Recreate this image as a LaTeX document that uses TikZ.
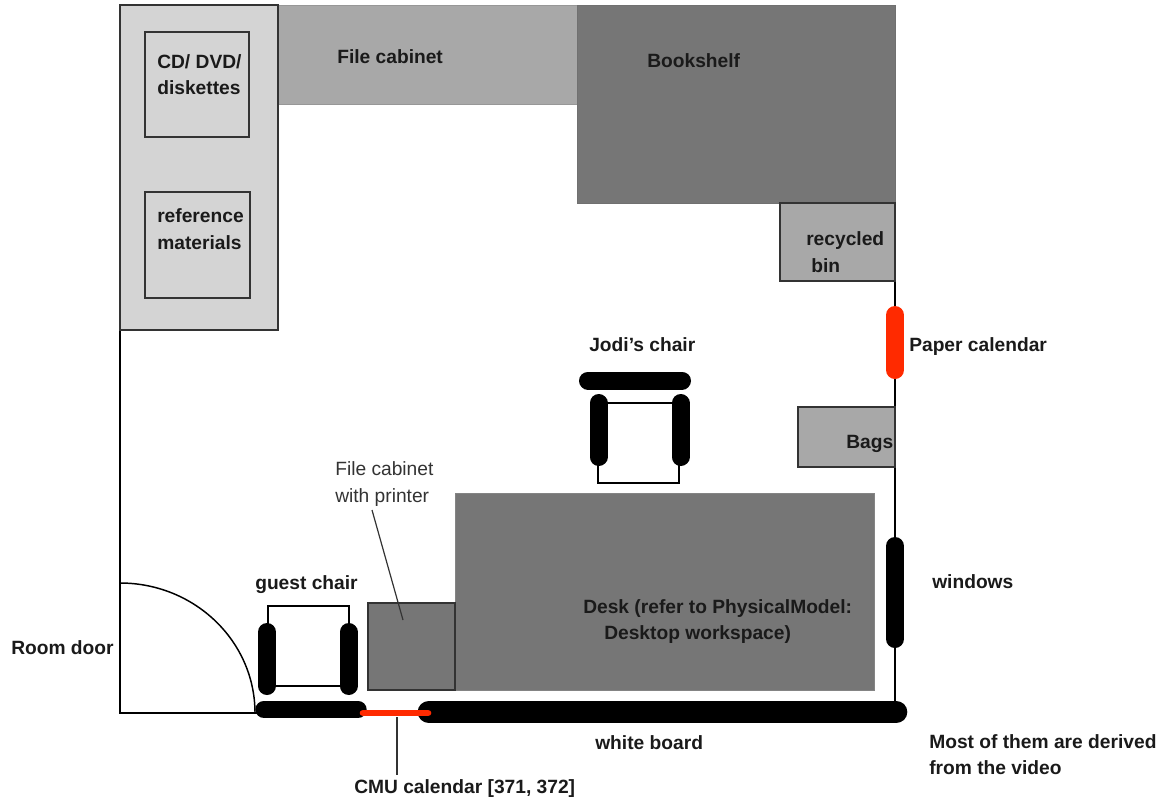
\documentclass[tikz,border=0pt]{standalone}
\usepackage{fontspec}
\setmainfont{Liberation Sans}
\definecolor{lightg}{HTML}{D4D4D4}
\definecolor{midg}{HTML}{A8A8A8}
\definecolor{darkg}{HTML}{767676}
\definecolor{calred}{HTML}{FF2A00}
\definecolor{edge}{HTML}{333333}
\definecolor{txt}{HTML}{1A1A1A}
\definecolor{txtg}{HTML}{333333}
\begin{document}
\begin{tikzpicture}[x=0.75pt,y=-0.75pt,
  lab/.style={font=\bfseries\fontsize{14.4pt}{17pt}\selectfont, inner sep=0pt, anchor=base west, text=txt},
  thinlab/.style={font=\fontsize{14.4pt}{17pt}\selectfont, inner sep=0pt, anchor=base west, text=txtg},
  wall/.style={draw=black, line width=1.1pt},
  box/.style={draw=edge, line width=1.1pt},
  bar/.style={draw=black, line width=13.5pt, line cap=round},
  seat/.style={draw=black, line width=0.9pt},
  leader/.style={draw=txtg, line width=0.9pt},
  redbar/.style={draw=calred, line cap=round},
]
\useasboundingbox (0,0) rectangle (1163,804);
% walls
\draw[wall] (120,5) -- (120,713) -- (895,713) -- (895,5);
% furniture
\path[fill=midg, draw=midg!90!black, line width=0.6pt] (278,5) rectangle (577,104);
\path[fill=darkg, draw=darkg!95!black, line width=0.6pt] (577,5) rectangle (895,203);
\path[box, fill=lightg] (120,5) rectangle (278,330);
\path[box, fill=lightg] (145,32) rectangle (249,137);
\path[box, fill=lightg] (145,192) rectangle (250,298);
\path[box, fill=midg] (780,203) rectangle (895,281);
\path[box, fill=midg] (798,407) rectangle (895,467);
\path[fill=darkg, draw=darkg!90!white, line width=0.6pt] (455,493) rectangle (874,690);
\path[box, fill=darkg] (368,603) rectangle (455,690);
% door
\draw[wall] (120,583) .. controls (194.6,583) and (255,641.2) .. (255,713);
% Jodi's chair
\draw[seat] (598,403) rectangle (679,483);
\draw[bar] (588,380.5) -- (682,380.5);
\draw[bar] (598.5,403) -- (598.5,457);
\draw[bar] (680.5,403) -- (680.5,457);
% guest chair
\draw[seat] (268,606) rectangle (349,686);
\draw[bar] (267,632) -- (267,686);
\draw[bar] (348.5,632) -- (348.5,686);
\draw[bar, line width=13pt] (264,709.5) -- (358,709.5);
% white board, calendars, windows
\draw[bar, line width=17pt] (429,712) -- (896,712);
\draw[redbar, line width=5pt] (363,713) -- (428,713);
\draw[redbar, line width=13.5pt] (895,315) -- (895,370);
\draw[bar] (895,546) -- (895,639);
% labels
\node[lab] (cd1) at (157,68) {CD/ DVD/};
\node[lab] (cd2) at (157,94) {diskettes};
\node[lab] (ref1) at (157,222) {reference};
\node[lab] (ref2) at (157,249) {materials};
\node[lab] (fc) at (337,63) {File cabinet};
\node[lab] (bs) at (647,67) {Bookshelf};
\node[lab] (rb1) at (806,245) {recycled};
\node[lab] (rb2) at (811,272) {bin};
\node[lab] (jc) at (589,351) {Jodi's chair};
\node[lab] (pc) at (909,351) {Paper calendar};
\node[lab] (bags) at (846,448) {Bags};
\node[thinlab] (fp1) at (335,475) {File cabinet};
\node[thinlab] (fp2) at (335,502) {with printer};
\node[lab] (gc) at (255,589) {guest chair};
\node[lab] (rd) at (11,654) {Room door};
\node[lab] (win) at (932,588) {windows};
\node[lab] (d1) at (583,613) {Desk (refer to PhysicalModel:};
\node[lab] (d2) at (604,639) {Desktop workspace)};
\node[lab] (wb) at (595,749) {white board};
\node[lab] (cmu) at (354,793) {CMU calendar [371, 372]};
\node[lab] (note1) at (929,748) {Most of them are derived};
\node[lab] (note2) at (929,774) {from the video};
% leaders
\coordinate (fpl) at (372,510);
\coordinate (prt) at (403,620);
\draw[leader] (fpl) -- (prt);
\coordinate (cmuw) at (397,717);
\coordinate (cmut) at (397,775);
\draw[leader] (cmuw) -- (cmut);
\end{tikzpicture}
\end{document}
